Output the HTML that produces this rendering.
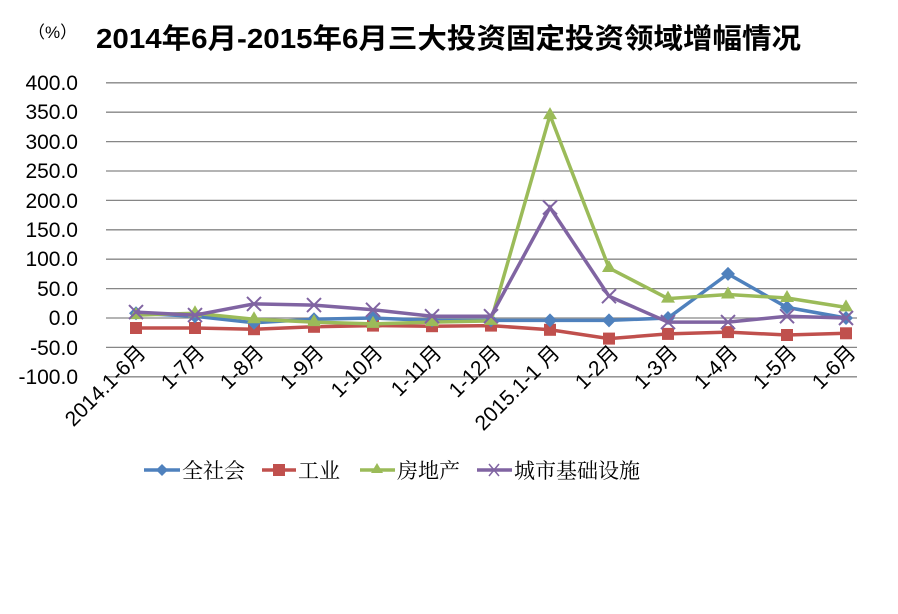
<!DOCTYPE html>
<html><head><meta charset="utf-8"><style>
html,body{margin:0;padding:0;background:#fff;}
svg{display:block;}
</style></head><body>
<svg width="898" height="614" xmlns="http://www.w3.org/2000/svg" font-family="Liberation Sans, Noto Sans CJK SC, sans-serif">
<rect width="898" height="614" fill="#fff"/>
<text x="28" y="38" font-size="17" fill="#000">（%）</text>
<text x="96" y="48" font-size="28" font-weight="bold" fill="#000" textLength="705" lengthAdjust="spacingAndGlyphs">2014年6月-2015年6月三大投资固定投资领域增幅情况</text>
<g stroke="#868686" stroke-width="1.3">
<line x1="106" x2="857" y1="82.8" y2="82.8"/><line x1="106" x2="857" y1="112.2" y2="112.2"/>
<line x1="106" x2="857" y1="141.6" y2="141.6"/><line x1="106" x2="857" y1="171" y2="171"/>
<line x1="106" x2="857" y1="200.4" y2="200.4"/><line x1="106" x2="857" y1="229.8" y2="229.8"/>
<line x1="106" x2="857" y1="259.2" y2="259.2"/><line x1="106" x2="857" y1="288.6" y2="288.6"/>
<line x1="106" x2="857" y1="318" y2="318"/><line x1="106" x2="857" y1="347.4" y2="347.4"/>
<line x1="106" x2="857" y1="376.8" y2="376.8"/>
</g>
<g font-size="21" text-anchor="end" fill="#000">
<text x="78" y="90">400.0</text><text x="78" y="119">350.0</text><text x="78" y="149">300.0</text>
<text x="78" y="178">250.0</text><text x="78" y="208">200.0</text><text x="78" y="237">150.0</text>
<text x="78" y="266">100.0</text><text x="78" y="296">50.0</text><text x="78" y="325">0.0</text>
<text x="78" y="355">-50.0</text><text x="78" y="384">-100.0</text>
</g>
<g font-size="21" text-anchor="end" fill="#000">
<text transform="translate(147,354) rotate(-45)">2014.1-6月</text>
<text transform="translate(206,354) rotate(-45)">1-7月</text>
<text transform="translate(265,354) rotate(-45)">1-8月</text>
<text transform="translate(325,354) rotate(-45)">1-9月</text>
<text transform="translate(384,354) rotate(-45)">1-10月</text>
<text transform="translate(443,354) rotate(-45)">1-11月</text>
<text transform="translate(502,354) rotate(-45)">1-12月</text>
<text transform="translate(561,354) rotate(-45)">2015.1-1 月</text>
<text transform="translate(620,354) rotate(-45)">1-2月</text>
<text transform="translate(679,354) rotate(-45)">1-3月</text>
<text transform="translate(739,354) rotate(-45)">1-4月</text>
<text transform="translate(798,354) rotate(-45)">1-5月</text>
<text transform="translate(857,354) rotate(-45)">1-6月</text>
</g>
<polyline fill="none" stroke="#C0504D" stroke-width="3.5" points="136,328 195,328 254,329.2 314,326.8 373,325.6 432,326.2 491,325.6 550,329.8 609,338.6 668,333.9 728,332.1 787,335 846,333.3"/>
<g fill="#C0504D">
<rect x="130" y="322" width="12" height="12"/><rect x="189" y="322" width="12" height="12"/><rect x="248" y="323.2" width="12" height="12"/>
<rect x="308" y="320.8" width="12" height="12"/><rect x="367" y="319.6" width="12" height="12"/><rect x="426" y="320.2" width="12" height="12"/>
<rect x="485" y="319.6" width="12" height="12"/><rect x="544" y="323.8" width="12" height="12"/><rect x="603" y="332.6" width="12" height="12"/>
<rect x="662" y="327.9" width="12" height="12"/><rect x="722" y="326.1" width="12" height="12"/><rect x="781" y="329" width="12" height="12"/>
<rect x="840" y="327.3" width="12" height="12"/>
</g>
<polyline fill="none" stroke="#4F81BD" stroke-width="3.5" points="136,313.3 195,316.2 254,322.7 314,319.2 373,318 432,320.4 491,320.4 550,320.4 609,320.4 668,318 728,273.9 787,307.4 846,318"/>
<g fill="#4F81BD">
<path d="M136 306.3l7 7-7 7-7-7z M195 309.2l7 7-7 7-7-7z M254 315.7l7 7-7 7-7-7z M314 312.2l7 7-7 7-7-7z M373 311l7 7-7 7-7-7z M432 313.4l7 7-7 7-7-7z M491 313.4l7 7-7 7-7-7z M550 313.4l7 7-7 7-7-7z M609 313.4l7 7-7 7-7-7z M668 311l7 7-7 7-7-7z M728 266.9l7 7-7 7-7-7z M787 300.4l7 7-7 7-7-7z M846 311l7 7-7 7-7-7z"/>
</g>
<polyline fill="none" stroke="#9BBB59" stroke-width="3.5" points="136,315.1 195,313.3 254,319.2 314,322.1 373,323.9 432,322.1 491,320.9 550,115.1 609,268 668,298.6 728,294.5 787,298 846,307.4"/>
<g fill="#9BBB59">
<path d="M136 307.1l7 12h-14z M195 305.3l7 12h-14z M254 311.2l7 12h-14z M314 314.1l7 12h-14z M373 315.9l7 12h-14z M432 314.1l7 12h-14z M491 312.9l7 12h-14z M550 107.1l7 12h-14z M609 260l7 12h-14z M668 290.6l7 12h-14z M728 286.5l7 12h-14z M787 290l7 12h-14z M846 299.4l7 12h-14z"/>
</g>
<polyline fill="none" stroke="#8064A2" stroke-width="3.5" points="136,312.1 195,315.1 254,303.9 314,305.1 373,309.8 432,316.2 491,316.2 550,207.5 609,296.2 668,322.1 728,322.1 787,316.2 846,318"/>
<g stroke="#8064A2" stroke-width="2">
<path d="M129 305.1l14 14M143 305.1l-14 14 M188 308.1l14 14M202 308.1l-14 14 M247 296.9l14 14M261 296.9l-14 14 M307 298.1l14 14M321 298.1l-14 14 M366 302.8l14 14M380 302.8l-14 14 M425 309.2l14 14M439 309.2l-14 14 M484 309.2l14 14M498 309.2l-14 14 M543 200.5l14 14M557 200.5l-14 14 M602 289.2l14 14M616 289.2l-14 14 M661 315.1l14 14M675 315.1l-14 14 M721 315.1l14 14M735 315.1l-14 14 M780 309.2l14 14M794 309.2l-14 14 M839 311l14 14M853 311l-14 14"/>
</g>
<g font-family="Liberation Serif, Noto Serif CJK SC, serif" font-size="21" fill="#000">
<line x1="144" x2="180" y1="470" y2="470" stroke="#4F81BD" stroke-width="3.5"/>
<path d="M162 464l6 6-6 6-6-6z" fill="#4F81BD"/>
<text x="182" y="478">全社会</text>
<line x1="262" x2="296" y1="470" y2="470" stroke="#C0504D" stroke-width="3.5"/>
<rect x="273" y="464" width="12" height="12" fill="#C0504D"/>
<text x="298" y="478">工业</text>
<line x1="360" x2="395" y1="470" y2="470" stroke="#9BBB59" stroke-width="3.5"/>
<path d="M377 463l6 10h-12z" fill="#9BBB59"/>
<text x="397" y="478">房地产</text>
<line x1="477" x2="512" y1="470" y2="470" stroke="#8064A2" stroke-width="3.5"/>
<path d="M489 464l10 12M499 464l-10 12" stroke="#8064A2" stroke-width="1.5"/>
<text x="514" y="478">城市基础设施</text>
</g>
</svg>
</body></html>
